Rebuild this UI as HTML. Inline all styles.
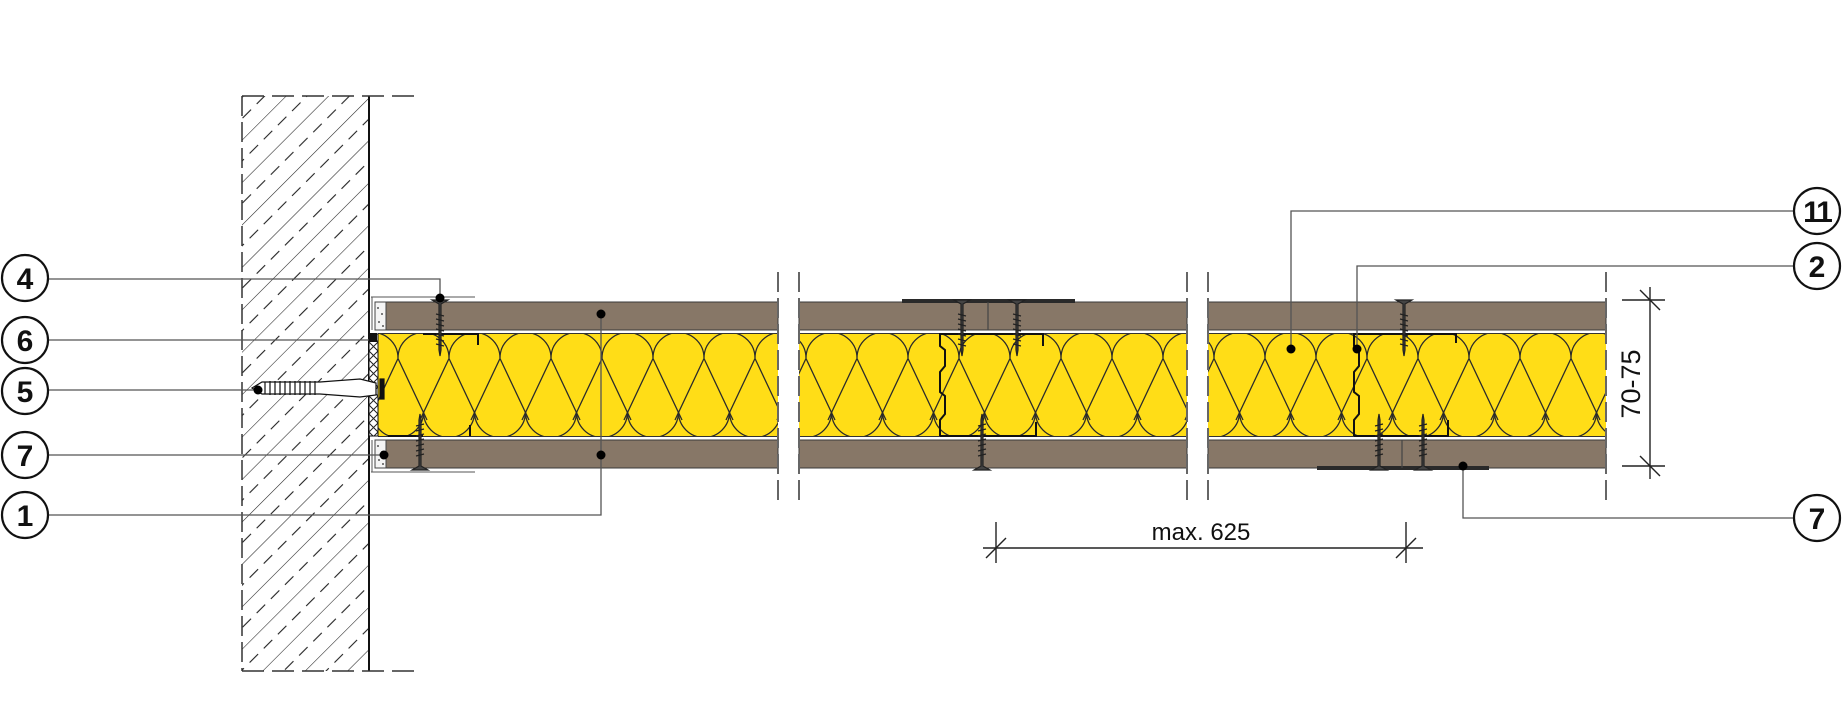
<!DOCTYPE html>
<html><head><meta charset="utf-8"><style>
html,body{margin:0;padding:0;background:#fff;}
svg{display:block;}
text{font-family:"Liberation Sans",sans-serif;}
</style></head><body>
<svg width="1843" height="709" viewBox="0 0 1843 709" xmlns="http://www.w3.org/2000/svg">
<defs>
<pattern id="hatch" patternUnits="userSpaceOnUse" width="30" height="40" patternTransform="rotate(45)">
<line x1="0" y1="0" x2="0" y2="40" stroke="#222" stroke-width="1.1"/>
<line x1="15" y1="0" x2="15" y2="40" stroke="#222" stroke-width="1.1" stroke-dasharray="12 8"/>
</pattern>
<pattern id="ins" patternUnits="userSpaceOnUse" x="-10" y="0" width="51" height="709">
<g fill="none" stroke="#2a2a2a" stroke-width="1.3">
<path d="M0 358 A25.5 25.5 0 0 1 51 358"/>
<path d="M-25.5 412 A25.5 25.5 0 0 0 25.5 412"/>
<path d="M25.5 412 A25.5 25.5 0 0 0 76.5 412"/>
<path d="M-4 350 L29 420"/>
<path d="M55 350 L22 420"/>
</g>
</pattern>
<pattern id="trim" patternUnits="userSpaceOnUse" width="9" height="9">
<path d="M0 0 L9 9 M9 0 L0 9" stroke="#222" stroke-width="1"/>
</pattern>
<g id="sd" stroke="#222" stroke-width="1.2" fill="#444"><path d="M-8 0 L8 0 L1 4 L1 50 L0 56 L-1 50 L-1 4 Z"/><path d="M-4 14 L4 16 M-4 19 L4 21 M-4 24 L4 26 M-4 29 L4 31 M-4 34 L4 36 M-4 39 L4 41 M-4 44 L4 46" fill="none"/></g>
</defs>

<!-- wall -->
<rect x="242" y="96" width="127" height="575" fill="url(#hatch)"/>
<line x1="242" y1="96" x2="242" y2="671" stroke="#333" stroke-width="1.5" stroke-dasharray="20 6"/>
<line x1="369" y1="96" x2="369" y2="671" stroke="#111" stroke-width="2"/>
<line x1="242" y1="96" x2="420" y2="96" stroke="#333" stroke-width="1.5" stroke-dasharray="22 8"/>
<line x1="242" y1="671" x2="420" y2="671" stroke="#333" stroke-width="1.5" stroke-dasharray="22 8"/>

<!-- insulation -->
<g>
<rect x="378" y="334" width="400" height="102" fill="#FFDD17"/>
<rect x="799" y="334" width="388" height="102" fill="#FFDD17"/>
<rect x="1208" y="334" width="398" height="102" fill="#FFDD17"/>
<rect x="378" y="334" width="400" height="102" fill="url(#ins)"/>
<rect x="799" y="334" width="388" height="102" fill="url(#ins)"/>
<rect x="1208" y="334" width="398" height="102" fill="url(#ins)"/>
</g>
<g stroke="#333" stroke-width="1">
<line x1="378" y1="333.5" x2="778" y2="333.5"/><line x1="799" y1="333.5" x2="1187" y2="333.5"/><line x1="1208" y1="333.5" x2="1606" y2="333.5"/>
<line x1="378" y1="436.5" x2="778" y2="436.5"/><line x1="799" y1="436.5" x2="1187" y2="436.5"/><line x1="1208" y1="436.5" x2="1606" y2="436.5"/>
</g>

<!-- boards -->
<g fill="#877767" stroke="#3a3a3a" stroke-width="1">
<rect x="386" y="302" width="392" height="28"/>
<rect x="799" y="302" width="388" height="28"/>
<rect x="1208" y="302" width="398" height="28"/>
<rect x="386" y="440" width="392" height="28"/>
<rect x="799" y="440" width="388" height="28"/>
<rect x="1208" y="440" width="398" height="28"/>
</g>
<rect x="375" y="302" width="11" height="28" fill="#f4f4f4" stroke="#444" stroke-width="1"/>
<rect x="375" y="440" width="11" height="28" fill="#f4f4f4" stroke="#444" stroke-width="1"/>
<g fill="#555"><circle cx="378" cy="308" r="1"/><circle cx="382" cy="314" r="1"/><circle cx="379" cy="322" r="1"/><circle cx="383" cy="326" r="1"/><circle cx="378" cy="446" r="1"/><circle cx="382" cy="452" r="1"/><circle cx="379" cy="460" r="1"/><circle cx="383" cy="464" r="1"/></g>
<line x1="371" y1="297" x2="475" y2="297" stroke="#555" stroke-width="1"/>
<line x1="371" y1="472" x2="475" y2="472" stroke="#555" stroke-width="1"/>
<line x1="372" y1="297" x2="372" y2="330" stroke="#555" stroke-width="1"/>
<line x1="372" y1="440" x2="372" y2="472" stroke="#555" stroke-width="1"/>
<rect x="369" y="334" width="9" height="102" fill="#fff"/>
<rect x="369" y="334" width="9" height="102" fill="url(#trim)" stroke="#111" stroke-width="1"/>
<rect x="369" y="333" width="8" height="9" fill="#111"/>

<!-- joint tapes -->
<rect x="902" y="299" width="173" height="4" fill="#2a2a2a"/>
<rect x="1317" y="466" width="172" height="4" fill="#2a2a2a"/>
<line x1="988" y1="302" x2="988" y2="330" stroke="#444" stroke-width="1.2"/>
<line x1="1402" y1="440" x2="1402" y2="468" stroke="#444" stroke-width="1.2"/>

<!-- studs -->
<g fill="none" stroke="#111" stroke-width="2">
<path d="M940 436 L940 420 L945 414 L945 396 L940 392 L940 372 L945 366 L945 350 L940 346 L940 334 L1043 334 L1043 346"/>
<path d="M940 436 L1036 436 L1036 422"/>
<path d="M1354 436 L1354 420 L1359 414 L1359 396 L1354 392 L1354 372 L1359 366 L1359 350 L1354 346 L1354 334 L1456 334 L1456 343"/>
<path d="M1354 436 L1448 436 L1448 420"/>
<path d="M423 334 L478 334 L478 345"/>
<path d="M423 436 L388 436 M470 436 L470 425"/>
</g>

<use href="#sd" transform="translate(440 300)"/>
<use href="#sd" transform="translate(962 300)"/>
<use href="#sd" transform="translate(1017 300)"/>
<use href="#sd" transform="translate(1404 300)"/>
<use href="#sd" transform="translate(420 470) scale(1 -1)"/>
<use href="#sd" transform="translate(982 470) scale(1 -1)"/>
<use href="#sd" transform="translate(1379 470) scale(1 -1)"/>
<use href="#sd" transform="translate(1423 470) scale(1 -1)"/>

<!-- dowel -->
<g stroke="#111" stroke-width="1.2" fill="#fff">
<path d="M252 388 L262 382 L320 382 L360 379 L376 383 L376 395 L360 397 L320 394 L262 394 Z"/>
<path d="M265 382 L265 394 M270 381 L270 395 M275 381 L275 395 M280 381 L280 395 M285 381 L285 395 M290 381 L290 395 M295 381 L295 395 M300 381 L300 395 M305 381 L305 395 M310 381 L310 395 M315 381 L315 395" fill="none"/>
<rect x="380" y="379" width="4" height="20" fill="#111"/>
</g>

<!-- break lines -->
<g stroke="#666" stroke-width="2" stroke-dasharray="20 6">
<line x1="778" y1="272" x2="778" y2="503"/>
<line x1="799" y1="272" x2="799" y2="503"/>
<line x1="1187" y1="272" x2="1187" y2="503"/>
<line x1="1208" y1="272" x2="1208" y2="503"/>
<line x1="1606" y1="272" x2="1606" y2="503"/>
</g>

<!-- leaders -->
<g stroke="#555" stroke-width="1.3" fill="none">
<path d="M48 279 L440 279 L440 298"/>
<path d="M48 340 L369 340"/>
<path d="M48 390 L258 390"/>
<path d="M48 455 L384 455"/>
<path d="M48 515 L601 515 L601 314"/>
<path d="M1794 211 L1291 211 L1291 349"/>
<path d="M1794 266 L1357 266 L1357 349"/>
<path d="M1794 518 L1463 518 L1463 466"/>
</g>
<g fill="#000">
<circle cx="440" cy="298" r="4.5"/><circle cx="258" cy="390" r="4.5"/><circle cx="384" cy="455" r="4.5"/>
<circle cx="601" cy="314" r="4.5"/><circle cx="601" cy="455" r="4.5"/>
<circle cx="1291" cy="349" r="4.5"/><circle cx="1357" cy="349" r="4.5"/><circle cx="1463" cy="466" r="4.5"/>
</g>

<g fill="#fff" stroke="#111" stroke-width="2.2">
<circle cx="25" cy="278" r="23"/><circle cx="25" cy="340" r="23"/><circle cx="25" cy="391" r="23"/>
<circle cx="25" cy="455" r="23"/><circle cx="25" cy="515" r="23"/>
<circle cx="1817" cy="211" r="23"/><circle cx="1817" cy="266" r="23"/><circle cx="1817" cy="518" r="23"/>
</g>
<g font-size="30" font-weight="bold" text-anchor="middle" fill="#111">
<text x="25" y="289">4</text><text x="25" y="351">6</text><text x="25" y="402">5</text>
<text x="25" y="466">7</text><text x="25" y="526">1</text>
<text x="1817" y="222" letter-spacing="-2">11</text><text x="1817" y="277">2</text><text x="1817" y="529">7</text>
</g>

<g stroke="#222" stroke-width="1.4">
<line x1="1650" y1="287" x2="1650" y2="479"/>
<line x1="1622" y1="300" x2="1665" y2="300"/>
<line x1="1622" y1="466" x2="1665" y2="466"/>
<line x1="1640" y1="290" x2="1660" y2="310"/>
<line x1="1640" y1="456" x2="1660" y2="476"/>
<line x1="983" y1="548" x2="1423" y2="548"/>
<line x1="996" y1="522" x2="996" y2="563"/>
<line x1="1406" y1="522" x2="1406" y2="563"/>
<line x1="986" y1="558" x2="1006" y2="538"/>
<line x1="1396" y1="558" x2="1416" y2="538"/>
</g>
<text x="1201" y="540" font-size="24" text-anchor="middle" fill="#111">max. 625</text>
<text transform="translate(1640 384) rotate(-90)" font-size="27" text-anchor="middle" fill="#111">70-75</text>
</svg>
</body></html>
